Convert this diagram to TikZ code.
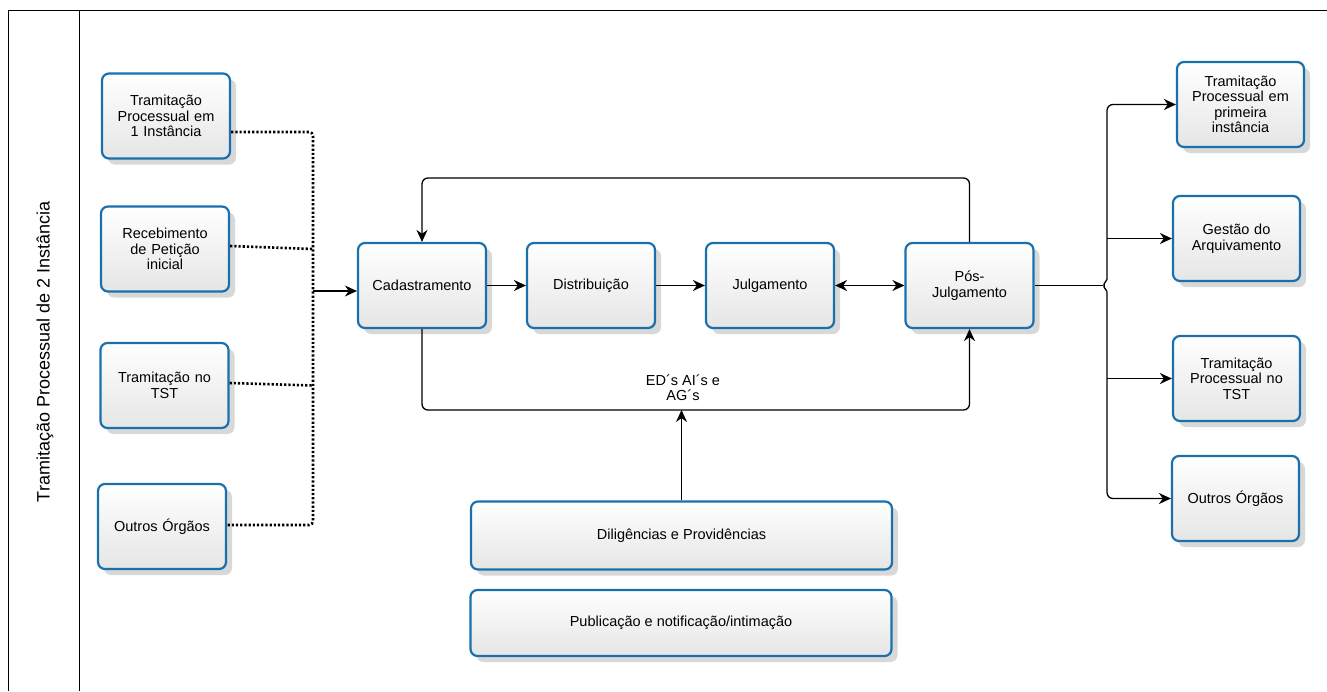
\documentclass[tikz,border=0pt]{standalone}
\usepackage{fontspec}
\setmainfont{Liberation Sans}
\usetikzlibrary{arrows.meta,shadows}
\definecolor{boxblue}{RGB}{26,112,172}
\begin{document}
\begin{tikzpicture}[x=1pt, y=-1pt,
  box/.style={draw=boxblue, line width=2.2pt, rounded corners=7pt,
    top color=white, bottom color=black!10, align=center,
    inner sep=2pt, font=\fontsize{14.5}{15.5}\selectfont,
    drop shadow={shadow xshift=6pt, shadow yshift=-6pt, opacity=0.22, fill=black!70}},
  smallbox/.style={box, minimum width=128pt, minimum height=85pt, text width=120pt},
  widebox/.style={box, minimum width=421pt, minimum height=68pt},
  arr/.style={line width=1.3pt, -{Stealth[length=12pt, width=11pt]}},
  dotline/.style={line width=2.6pt, dash pattern=on 2.2pt off 2pt}]
\useasboundingbox (0, 0) rectangle (1327, 691);

% lane
\draw [line width=0.9pt] (1327, 10) -- (8, 10) -- (8, 691);
\draw [line width=0.9pt] (79, 10) -- (79, 691);
\node (lane) at (45, 352) [rotate=90, font=\fontsize{18}{20}\selectfont] {Tramitação Processual de 2 Instância};

% origins
\node (inA) at (166, 116) [smallbox] {Tramitação\\Processual em\\1 Instância};
\node (inB) at (165, 249) [smallbox] {Recebimento\\de Petição\\inicial};
\node (inC) at (164.5, 385.5) [smallbox] {Tramitação no\\TST};
\node (inD) at (162, 526.5) [smallbox] {Outros Órgãos};

% main flow
\node (cad) at (422, 285.5) [smallbox] {Cadastramento};
\node (dist) at (591, 285.5) [smallbox] {Distribuição};
\node (julg) at (770, 285.5) [smallbox] {Julgamento};
\node (pos) at (969.5, 285.5) [smallbox] {Pós-\\Julgamento};
\node (dil) at (681.5, 535.5) [widebox] {Diligências e Providências};
\node (pub) at (681, 623) [widebox, minimum height=66pt] {Publicação e notificação/intimação};

% destinations
\node (outA) at (1240.5, 104.5) [smallbox, minimum width=127pt] {Tramitação\\Processual em\\primeira\\instância};
\node (outB) at (1236.5, 238.5) [smallbox, minimum width=127pt] {Gestão do\\Arquivamento};
\node (outC) at (1236.5, 378.5) [smallbox, minimum width=127pt] {Tramitação\\Processual no\\TST};
\node (outD) at (1235.5, 498.5) [smallbox, minimum width=127pt] {Outros Órgãos};

% dotted collector
\coordinate (dTop) at (313, 132);
\coordinate (dBot) at (313, 525);
\coordinate (jL) at (313, 291);
\draw [dotline, rounded corners=4pt] ([yshift=-16pt]inA.east) -- (dTop) -- (dBot) -- ([yshift=1.5pt]inD.east);
\draw [dotline] ([yshift=3pt]inB.east) -- (inB.east -| dTop);
\draw [dotline] ([yshift=2.5pt]inC.east) -- (inC.east -| dTop);
\draw [arr] (jL) -- (jL -| cad.west);

\draw [arr] (cad) -- (dist);
\draw [arr] (dist) -- (julg);
\draw [line width=1.3pt, {Stealth[length=12pt, width=11pt]}-{Stealth[length=12pt, width=11pt]}] (julg) -- (pos);

% loops
\coordinate (loopT) at (0, 178);
\coordinate (loopB) at (0, 410);
\draw [arr, rounded corners=6pt] (pos.north) -- (pos.north |- loopT) -- (cad.north |- loopT) -- (cad.north);
\draw [arr, rounded corners=6pt] (cad.south) -- (cad.south |- loopB) -- (pos.south |- loopB) -- (pos.south);
\node (eds) at (683, 388) [align=center, font=\fontsize{14.5}{15}\selectfont] {ED´s AI´s e\\AG´s};
\draw [arr] (dil.north) -- (dil.north |- loopB);

% distribution bus
\coordinate (bus) at (1107, 285.5);
\draw [line width=1.3pt] (pos.east) -- ([xshift=-4pt]bus);
\draw [line width=1.3pt, rounded corners=2pt] ([yshift=6pt]bus) -- ([xshift=-4pt]bus) -- ([yshift=-6pt]bus);
\draw [arr, rounded corners=6pt] ([yshift=6pt]bus) -- (bus |- outA.west) -- (outA.west);
\draw [arr] (bus |- outB.west) -- (outB.west);
\draw [arr] (bus |- outC.west) -- (outC.west);
\draw [arr, rounded corners=6pt] ([yshift=-6pt]bus) -- (bus |- outD.west) -- (outD.west);
\end{tikzpicture}
\end{document}
